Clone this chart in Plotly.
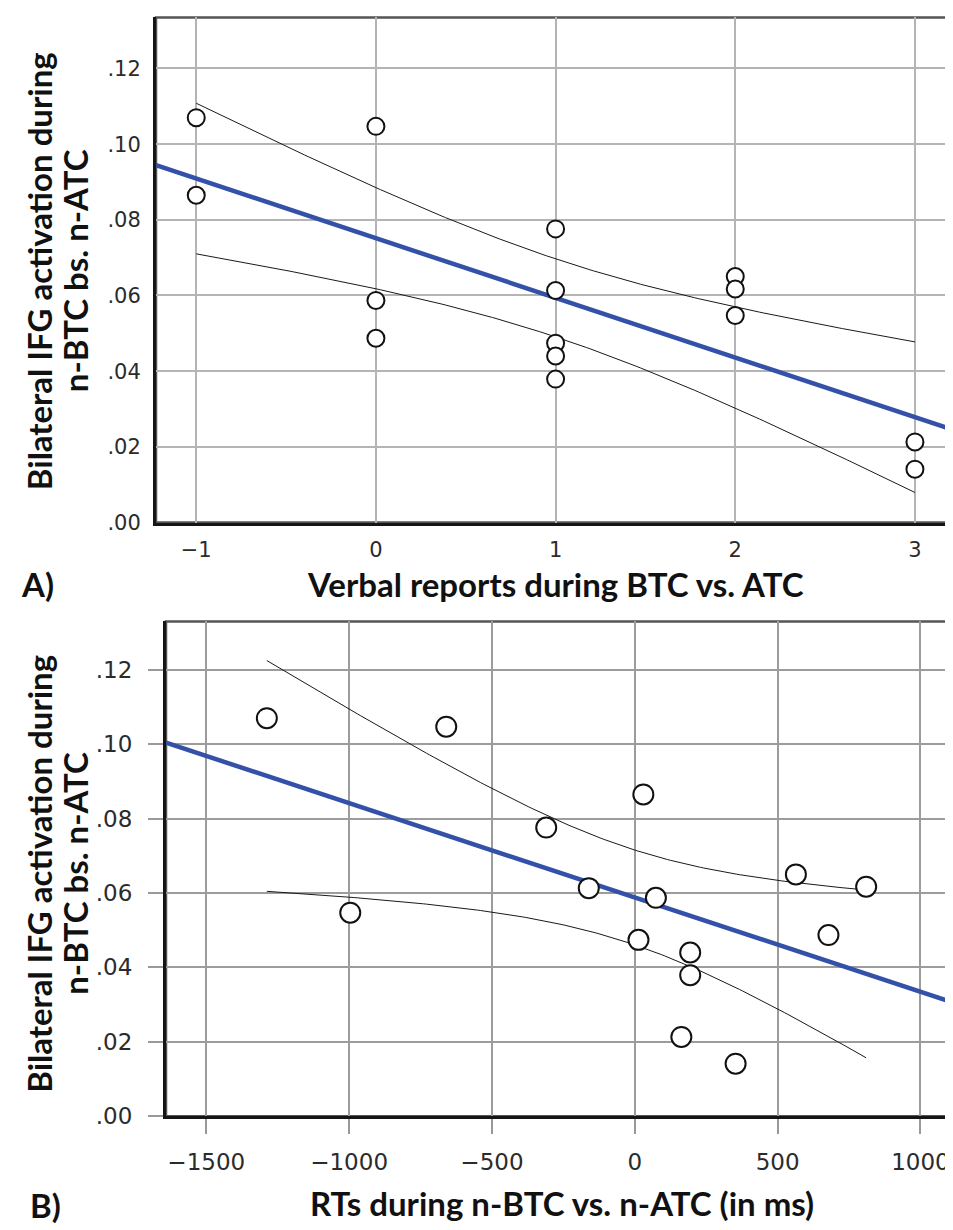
import numpy as np
import plotly.graph_objects as go

# ---- data (one entry per participant) ----
ifg_activation = [0.1070, 0.1047, 0.0865, 0.0776, 0.0613, 0.0587, 0.0650, 0.0617,
                  0.0547, 0.0487, 0.0474, 0.0440, 0.0379, 0.0213, 0.0141]
verbal_reports = [-1, 0, -1, 1, 1, 0, 2, 2, 2, 0, 1, 1, 1, 3, 3]
rt_diff_ms = [-1288, -660, 30, -310, -161, 74, 564, 810, -996, 678, 13, 194, 194, 163, 353]

y_ticks = [0.00, 0.02, 0.04, 0.06, 0.08, 0.10, 0.12]
y_ticktext = [".00", ".02", ".04", ".06", ".08", ".10", ".12"]
x1_ticks = [-1, 0, 1, 2, 3]
x1_ticktext = ["\u22121", "0", "1", "2", "3"]
x2_ticks = [-1500, -1000, -500, 0, 500, 1000]
x2_ticktext = ["\u22121500", "\u22121000", "\u2212500", "0", "500", "1000"]

X1_RANGE = [-1.224, 3.223]
X2_RANGE = [-1641, 1135]
Y1_RANGE = [0, 0.1335]
Y2_RANGE = [0, 0.1330]
T_CRIT = 2.1604  # t(0.975, df=13)

W, H = 953, 1230


def fit(x, y):
    x = np.asarray(x, float)
    y = np.asarray(y, float)
    n = len(x)
    b, a = np.polyfit(x, y, 1)
    resid = y - (a + b * x)
    s = np.sqrt(np.sum(resid ** 2) / (n - 2))
    xm = x.mean()
    sxx = np.sum((x - xm) ** 2)
    xs = np.linspace(x.min(), x.max(), 200)
    se = s * np.sqrt(1.0 / n + (xs - xm) ** 2 / sxx)
    yh = a + b * xs
    return a, b, xs, yh - T_CRIT * se, yh + T_CRIT * se


fig = go.Figure()

BLUE = "#3351a8"


def add_panel(x, y, xr, xa, ya, msize):
    a, b, xs, lo, hi = fit(x, y)
    xr = np.array(xr, float)
    fig.add_trace(go.Scatter(x=xs, y=hi, mode="lines", line=dict(color="#1a1a1a", width=1),
                             xaxis=xa, yaxis=ya, showlegend=False, hoverinfo="skip"))
    fig.add_trace(go.Scatter(x=xs, y=lo, mode="lines", line=dict(color="#1a1a1a", width=1),
                             xaxis=xa, yaxis=ya, showlegend=False, hoverinfo="skip"))
    fig.add_trace(go.Scatter(x=xr, y=a + b * xr, mode="lines", line=dict(color=BLUE, width=4.5),
                             xaxis=xa, yaxis=ya, showlegend=False))
    fig.add_trace(go.Scatter(x=x, y=y, mode="markers",
                             marker=dict(symbol="circle", size=msize, color="white",
                                         line=dict(color="#111", width=2)),
                             xaxis=xa, yaxis=ya, showlegend=False))


add_panel(verbal_reports, ifg_activation, X1_RANGE, "x", "y", 17)
add_panel(rt_diff_ms, ifg_activation, X2_RANGE, "x2", "y2", 20)

tickfont = dict(family="DejaVu Sans", size=21, color="#2b2b2b")
tickfont2 = dict(family="DejaVu Sans", size=23, color="#2b2b2b")
grid1 = dict(showgrid=True, gridcolor="#b4b4b4", gridwidth=1.6, zeroline=False,
             showline=True, linecolor="#151515", linewidth=3)
grid2 = dict(showgrid=True, gridcolor="#9c9c9c", gridwidth=1.6, zeroline=False,
             showline=True, linecolor="#151515", linewidth=3)

fig.update_layout(
    width=W, height=H,
    margin=dict(l=0, r=0, t=0, b=0),
    paper_bgcolor="white", plot_bgcolor="white",
    xaxis=dict(domain=[148 / W, 947 / W], range=X1_RANGE, anchor="y",
               tickvals=x1_ticks, ticktext=x1_ticktext, ticks="", tickfont=tickfont,
               ticklabelstandoff=6, **grid1),
    yaxis=dict(domain=[1 - 520 / H, 1 - 9.5 / H], range=Y1_RANGE, anchor="x",
               tickvals=y_ticks, ticktext=y_ticktext, ticks="", tickfont=tickfont,
               ticklabelstandoff=8, **grid1),
    xaxis2=dict(domain=[158 / W, 951 / W], range=X2_RANGE, anchor="y2",
                tickvals=x2_ticks, ticktext=x2_ticktext, ticks="outside", ticklen=15,
                tickwidth=2, tickcolor="#999999", tickfont=tickfont2,
                ticklabelstandoff=8, **grid2),
    yaxis2=dict(domain=[1 - 1120 / H, 1 - 620 / H], range=Y2_RANGE, anchor="x2",
                tickvals=y_ticks, ticktext=y_ticktext, ticks="outside", ticklen=15,
                tickwidth=2, tickcolor="#999999", tickfont=tickfont2,
                ticklabelstandoff=11, **grid2),
)

for xr, yr in (("x domain", "y domain"), ("x2 domain", "y2 domain")):
    fig.add_shape(type="rect", xref=xr, yref=yr, x0=0, x1=1, y0=0, y1=1,
                  line=dict(color="#555555", width=2.5), layer="below")

title_font = dict(family="Lato", size=33, color="#111111", weight="bold")


def ann(text, px, py, angle=0):
    fig.add_annotation(text=text, x=px / W, y=1 - py / H, xref="paper", yref="paper",
                       xanchor="center", yanchor="middle", textangle=angle,
                       showarrow=False, font=title_font)


ann("Bilateral IFG activation during", 31, 266, -90)
ann("n-BTC bs. n-ATC", 67, 266, -90)
ann("Bilateral IFG activation during", 31, 875, -90)
ann("n-BTC bs. n-ATC", 67, 875, -90)
ann("Verbal reports during BTC vs. ATC", 547, 582)
ann("RTs during n-BTC vs. n-ATC (in ms)", 554, 1208)
ann("A)", 30, 582)
ann("B)", 37, 1210)

fig.write_html("out.html")
